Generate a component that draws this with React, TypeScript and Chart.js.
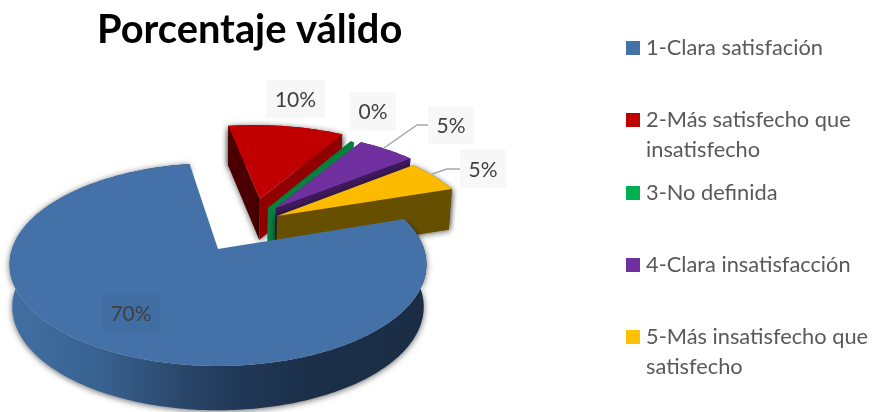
import React, { useEffect, useRef } from "react";
import { Chart, registerables } from "chart.js";

Chart.register(...registerables);

const categories = [
  "1-Clara satisfación",
  "2-Más satisfecho que insatisfecho",
  "3-No definida",
  "4-Clara insatisfacción",
  "5-Más insatisfecho que satisfecho",
];
const values = [70, 10, 0.3, 4.95, 4.95];
const legendLines = [
  ["1-Clara satisfación"],
  ["2-Más satisfecho que", "insatisfecho"],
  ["3-No definida"],
  ["4-Clara insatisfacción"],
  ["5-Más insatisfecho que", "satisfecho"],
];
const topColors = ["#4472A8", "#C00000", "#007C3C", "#7030A0", "#FDBB00"];
const legendColors = ["#4472A8", "#C00000", "#00B050", "#7030A0", "#FFC000"];
const wallColors = ["#1A2D45", "#900000", "#0A7F3F", "#3F1A5C", "#665000"];
const startWallColors = ["#1A2D45", "#4A0000", "#0A7F3F", "#3F1A5C", "#665000"];

// Layout of the perspective view, in screen pixels or disk units.
const VIEW = { cx: 218, cy: 249, f: 206, g: 99.1, p: 0.1527, depth: 42, shrinkX: 0.987, shrinkY: 0.955 };
const sliceShift = [
  [0, 0],
  [0.22, -0.546],
  [0.259, -0.442],
  [0.3, -0.442],
  [0.302, -0.351],
];
const drawOrder = [1, 2, 3, 4, 0];
const sliceShadow = [true, true, false, false, true];
const labelCenters = [
  [131, 313, 58, 38],
  [295.5, 99, 59, 38],
  [373, 111, 46, 38],
  [451, 125, 46, 38],
  [483, 169, 46, 38],
];
const leaderLines = [
  [[384, 148], [417, 125], [428, 125]],
  [[432, 174], [447, 169], [460, 169]],
];
const legendRows = [48, 120, 193, 265, 337];

const FONT = "Lato, 'Open Sans', sans-serif";

function project(u: number, v: number, bottom: boolean) {
  const w = 1 - VIEW.p * v;
  return {
    x: VIEW.cx + (VIEW.f * (bottom ? VIEW.shrinkX : 1) * u) / w,
    y: VIEW.cy + (VIEW.g * (bottom ? VIEW.shrinkY : 1) * v + (bottom ? VIEW.depth : 0)) / w,
  };
}

const piePlugin = {
  id: "pie3d",
  beforeDatasetsDraw(chart: any) {
    const ctx: CanvasRenderingContext2D = chart.ctx;
    const arcs = chart.getDatasetMeta(0).data;
    for (const i of drawOrder) {
      const { startAngle, endAngle } = arcs[i].getProps(["startAngle", "endAngle"], true);
      const [du, dv] = sliceShift[i];
      const n = Math.max(4, Math.ceil(((endAngle - startAngle) * 180) / Math.PI));
      const rim: [number, number][] = [];
      for (let k = 0; k <= n; k++) {
        const a = startAngle + ((endAngle - startAngle) * k) / n;
        rim.push([du + Math.cos(a), dv + Math.sin(a)]);
      }
      const trace = (pts: { x: number; y: number }[]) => {
        ctx.beginPath();
        pts.forEach((q, idx) => (idx ? ctx.lineTo(q.x, q.y) : ctx.moveTo(q.x, q.y)));
        ctx.closePath();
      };
      const apexT = project(du, dv, false);
      const apexB = project(du, dv, true);
      const rimT = rim.map(([u, v]) => project(u, v, false));
      const rimB = rim.map(([u, v]) => project(u, v, true));

      ctx.save();
      if (sliceShadow[i]) {
        ctx.shadowColor = "rgba(0,0,0,0.6)";
        ctx.shadowBlur = 6;
        ctx.shadowOffsetX = 0;
        ctx.shadowOffsetY = 1;
      }
      // outer wall
      if (i === 0) {
        const grad = ctx.createLinearGradient(10, 0, 426, 0);
        grad.addColorStop(0, "#426FA3");
        grad.addColorStop(0.22, "#386190");
        grad.addColorStop(0.36, "#2E4E74");
        grad.addColorStop(0.52, "#223A5A");
        grad.addColorStop(0.72, "#1B2F48");
        grad.addColorStop(1, "#1A2D45");
        ctx.fillStyle = grad;
      } else {
        ctx.fillStyle = wallColors[i];
      }
      trace([...rimT, ...rimB.slice().reverse()]);
      ctx.fill();
      // radial walls
      if (i !== 0) {
        ctx.fillStyle = startWallColors[i];
        trace([apexT, rimT[0], rimB[0], apexB]);
        ctx.fill();
        ctx.fillStyle = wallColors[i];
        trace([apexT, rimT[n], rimB[n], apexB]);
        ctx.fill();
      }
      ctx.restore();
      // top face
      ctx.fillStyle = topColors[i];
      trace([apexT, ...rimT]);
      ctx.fill();
    }
    return false;
  },
  afterDraw(chart: any) {
    const ctx: CanvasRenderingContext2D = chart.ctx;
    ctx.save();
    // leader lines
    ctx.strokeStyle = "#A6A6A6";
    ctx.lineWidth = 1.5;
    leaderLines.forEach((line) => {
      ctx.beginPath();
      line.forEach(([x, y], k) => (k ? ctx.lineTo(x, y) : ctx.moveTo(x, y)));
      ctx.stroke();
    });
    // data labels
    ctx.textAlign = "center";
    ctx.textBaseline = "middle";
    values.forEach((v, i) => {
      const [x, y, w, h] = labelCenters[i];
      ctx.fillStyle = "rgba(0,0,0,0.03)";
      ctx.fillRect(x - w / 2, y - h / 2, w, h);
      ctx.fillStyle = "#404040";
      ctx.font = `21px ${FONT}`;
      ctx.fillText(`${Math.round(v)}%`, x, y + 1);
    });
    // legend
    ctx.textAlign = "left";
    legendLines.forEach((lines, i) => {
      const y = legendRows[i];
      ctx.fillStyle = legendColors[i];
      ctx.fillRect(626, y - 7, 14, 14);
      ctx.fillStyle = "#595959";
      ctx.font = `21.8px ${FONT}`;
      lines.forEach((t, k) => ctx.fillText(t, 646, y + k * 30));
    });
    ctx.restore();
  },
};

export default function App() {
  const ref = useRef<HTMLCanvasElement>(null);
  useEffect(() => {
    const chart = new Chart(ref.current!, {
      type: "pie",
      data: {
        labels: categories,
        datasets: [{ data: values, backgroundColor: legendColors, borderWidth: 0 }],
      },
      options: {
        animation: false,
        responsive: false,
        rotation: 71.5,
        layout: { padding: { left: 97, top: 6, right: 0, bottom: 0 } },
        plugins: {
          legend: { display: false },
          tooltip: { enabled: false },
          title: {
            display: true,
            text: "Porcentaje válido",
            align: "start",
            color: "#000000",
            font: { family: FONT, size: 39.8, weight: "bold" },
            padding: { top: 0, bottom: 0 },
          },
        },
      },
      plugins: [piePlugin],
    } as any);
    return () => chart.destroy();
  }, []);
  return (
    <canvas
      ref={ref}
      width={885}
      height={412}
      style={{ position: "fixed", left: 0, top: 0, width: 885, height: 412 }}
    />
  );
}
